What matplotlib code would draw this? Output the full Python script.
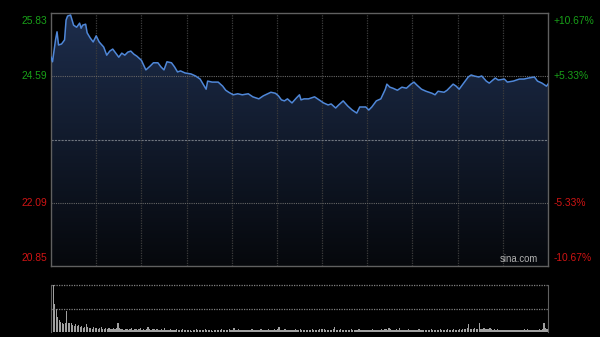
import matplotlib
matplotlib.use("Agg")
import matplotlib.pyplot as plt
import numpy as np
from matplotlib.colors import LinearSegmentedColormap

plt.rcParams['font.family'] = ['Liberation Sans', 'DejaVu Sans']

# intraday minutes (HK session, 330 min) and price
minutes = [0, 1, 3, 4, 5, 7, 9, 10, 11, 13, 15, 17, 19, 20, 21, 23, 24, 26, 28, 30, 32,
           35, 37, 39, 41, 43, 45, 47, 49, 51, 53, 55, 57, 60, 63, 66, 68, 71, 73, 75, 77,
           80, 82, 84, 86, 89, 93, 96, 99, 103, 104, 107, 111, 114, 116, 118, 121, 124, 127,
           131, 134, 138, 141, 146, 149, 151, 153, 155, 157, 160, 163, 165, 166, 168, 171,
           175, 178, 181, 184, 186, 189, 191, 194, 197, 200, 203, 205, 209, 211, 213, 216,
           219, 222, 223, 225, 227, 230, 233, 236, 239, 241, 243, 246, 249, 253, 255, 257,
           261, 263, 267, 269, 271, 274, 277, 279, 281, 284, 286, 289, 291, 295, 297, 301,
           303, 307, 311, 314, 317, 321, 323, 326, 329, 330]
prices = [24.96, 24.87, 25.30, 25.46, 25.20, 25.22, 25.30, 25.69, 25.77, 25.79, 25.59,
          25.55, 25.63, 25.53, 25.59, 25.61, 25.44, 25.34, 25.26, 25.38, 25.26,
          25.16, 25.00, 25.08, 25.12, 25.04, 24.96, 25.04, 25.00, 25.06, 25.08,
          25.02, 24.98, 24.90, 24.71, 24.79, 24.85, 24.85, 24.77, 24.71, 24.87,
          24.85, 24.77, 24.67, 24.69, 24.65, 24.63, 24.59, 24.53, 24.33, 24.49,
          24.47, 24.47, 24.39, 24.31, 24.27, 24.22, 24.24, 24.22, 24.24, 24.18,
          24.14, 24.20, 24.27, 24.25, 24.20, 24.12, 24.10, 24.14, 24.06, 24.16,
          24.22, 24.12, 24.14, 24.14, 24.18, 24.12, 24.06, 24.02, 24.04, 23.96,
          24.02, 24.10, 24.00, 23.92, 23.86, 23.98, 23.98, 23.92, 23.98, 24.10,
          24.14, 24.33, 24.43, 24.37, 24.35, 24.31, 24.37, 24.35, 24.43, 24.47,
          24.41, 24.33, 24.29, 24.25, 24.22, 24.29, 24.27, 24.31, 24.43, 24.39,
          24.33, 24.45, 24.57, 24.61, 24.59, 24.57, 24.59, 24.49, 24.45, 24.55,
          24.51, 24.53, 24.47, 24.49, 24.53, 24.53, 24.55, 24.57, 24.49, 24.45,
          24.39, 24.43]

# relative volume per minute (0..330)
volume = [1.0, 1.0, 0.6, 0.49, 0.32, 0.26, 0.21, 0.2, 0.18, 0.2,
          0.45, 0.2, 0.19, 0.19, 0.15, 0.13, 0.16, 0.12, 0.14, 0.1,
          0.13, 0.09, 0.11, 0.17, 0.1, 0.08, 0.09, 0.07, 0.1, 0.08,
          0.09, 0.07, 0.08, 0.1, 0.06, 0.07, 0.09, 0.06, 0.08, 0.07,
          0.06, 0.08, 0.07, 0.09, 0.19, 0.08, 0.06, 0.07, 0.05, 0.06,
          0.07, 0.05, 0.06, 0.08, 0.05, 0.06, 0.07, 0.05, 0.06, 0.09,
          0.05, 0.06, 0.05, 0.07, 0.1, 0.06, 0.05, 0.07, 0.06, 0.05,
          0.06, 0.05, 0.04, 0.06, 0.05, 0.08, 0.05, 0.04, 0.05, 0.06,
          0.04, 0.05, 0.04, 0.06, 0.05, 0.04, 0.05, 0.07, 0.04, 0.05,
          0.04, 0.05, 0.04, 0.03, 0.05, 0.04, 0.06, 0.04, 0.05, 0.04,
          0.05, 0.04, 0.06, 0.05, 0.04, 0.05, 0.04, 0.03, 0.05, 0.04,
          0.04, 0.05, 0.04, 0.06, 0.05, 0.04, 0.05, 0.04, 0.06, 0.05,
          0.05, 0.09, 0.05, 0.04, 0.06, 0.05, 0.04, 0.05, 0.04, 0.05,
          0.04, 0.05, 0.04, 0.06, 0.05, 0.04, 0.05, 0.04, 0.05, 0.06,
          0.05, 0.04, 0.05, 0.04, 0.06, 0.05, 0.04, 0.05, 0.06, 0.05,
          0.06, 0.1, 0.05, 0.04, 0.05, 0.06, 0.04, 0.05, 0.04, 0.05,
          0.04, 0.05, 0.06, 0.05, 0.04, 0.07, 0.05, 0.04, 0.05, 0.04,
          0.05, 0.04, 0.05, 0.06, 0.04, 0.05, 0.04, 0.05, 0.06, 0.07,
          0.07, 0.06, 0.05, 0.04, 0.05, 0.04, 0.05, 0.06, 0.1, 0.05,
          0.04, 0.05, 0.06, 0.04, 0.05, 0.04, 0.05, 0.04, 0.05, 0.06,
          0.05, 0.04, 0.05, 0.04, 0.06, 0.05, 0.04, 0.05, 0.04, 0.05,
          0.04, 0.05, 0.04, 0.06, 0.05, 0.04, 0.05, 0.04, 0.05, 0.06,
          0.05, 0.06, 0.07, 0.05, 0.09, 0.06, 0.05, 0.04, 0.05, 0.06,
          0.05, 0.08, 0.05, 0.04, 0.05, 0.04, 0.05, 0.06, 0.04, 0.05,
          0.04, 0.05, 0.04, 0.05, 0.06, 0.04, 0.05, 0.04, 0.05, 0.04,
          0.05, 0.04, 0.06, 0.05, 0.04, 0.05, 0.04, 0.05, 0.06, 0.05,
          0.04, 0.05, 0.04, 0.06, 0.05, 0.04, 0.05, 0.06, 0.05, 0.04,
          0.05, 0.06, 0.05, 0.06, 0.07, 0.06, 0.08, 0.17, 0.06, 0.07,
          0.06, 0.09, 0.07, 0.06, 0.19, 0.07, 0.06, 0.08, 0.06, 0.07,
          0.06, 0.09, 0.06, 0.05, 0.06, 0.05, 0.06, 0.05, 0.04, 0.05,
          0.04, 0.05, 0.04, 0.05, 0.04, 0.05, 0.04, 0.05, 0.04, 0.05,
          0.04, 0.05, 0.04, 0.05, 0.06, 0.05, 0.07, 0.05, 0.04, 0.05,
          0.04, 0.05, 0.04, 0.05, 0.06, 0.05, 0.07, 0.19, 0.08, 0.07, 0.1]

prev_close = 23.34
price_ticks = [25.83, 24.59, 22.09, 20.85]
pct_labels = ['+10.67%', '+5.33%', '-5.33%', '-10.67%']
y_min, y_max = 20.85, 25.83

green = '#18a018'
red = '#d01414'
dot = (0, (1, 1))

fig = plt.figure(figsize=(6, 3.37), dpi=100, facecolor='black')

# price panel
ax = fig.add_axes([51/600, 71/337, 497/600, 253/337])
ax.set_facecolor('black')
ax.set_xlim(0, 330)
ax.set_ylim(y_min, y_max)
for s in ax.spines.values():
    s.set_color('#606060')
    s.set_linewidth(1)
ax.set_xticks([])
ax.set_yticks([])

# gradient fill under the line
cmap = LinearSegmentedColormap.from_list('fill', ['#06080c', '#1d2d4c'])
grad = np.linspace(0, 1, 256).reshape(-1, 1)
poly = ax.fill_between(minutes, prices, y_min, color='none', lw=0)
img = ax.imshow(grad, cmap=cmap, aspect='auto', origin='lower',
                extent=[0, 330, y_min, y_max], zorder=1)
img.set_clip_path(poly.get_paths()[0], transform=ax.transData)

for m in range(30, 330, 30):
    ax.axvline(m, color='#3c3c3c', lw=0.9, ls=dot, zorder=2)
for p in [24.59, 22.09]:
    ax.axhline(p, color='#666666', lw=0.8, ls=dot, zorder=2)
ax.axhline(prev_close, color='#707680', lw=0.8, ls=(0, (2, 1)), zorder=2)

ax.plot(minutes, prices, color='#4f87d8', lw=1.1, zorder=3)

ax.text(0.98, 0.008, 'sina.com', transform=ax.transAxes, ha='right', va='bottom',
        color='#b0b0b0', fontsize=6.9, zorder=4)

# axis labels
vas = ['top', 'center', 'center', 'bottom']
offs = [-2, 0, 0, 2]
for p, lab, va, o in zip(price_ticks, pct_labels, vas, offs):
    c = green if p > prev_close else red
    ax.annotate(f'{p:.2f}', xy=(0, p), xycoords=('axes fraction', 'data'),
                xytext=(-3, o), textcoords='offset points', ha='right', va=va,
                color=c, fontsize=7.4)
    ax.annotate(lab, xy=(1, p), xycoords=('axes fraction', 'data'),
                xytext=(4, o), textcoords='offset points', ha='left', va=va,
                color=c, fontsize=7.4)

# volume panel
vx = fig.add_axes([51/600, 5/337, 497/600, 47/337])
vx.set_facecolor('black')
vx.set_xlim(0, 330)
vx.set_ylim(0, 1.0)
vx.set_xticks([])
vx.set_yticks([])
for k in ['top', 'bottom']:
    vx.spines[k].set_visible(False)
for k in ['left', 'right']:
    vx.spines[k].set_color('#606060')
vx.axhline(1.0, color='#808080', lw=0.9, ls=dot, clip_on=False)
vx.axhline(0.5, color='#808080', lw=0.9, ls=dot)
vx.bar(range(len(volume)), volume, width=0.85, color='#a0a0a0', lw=0, align='edge')

fig.savefig('out.png', dpi=100, facecolor='black')
